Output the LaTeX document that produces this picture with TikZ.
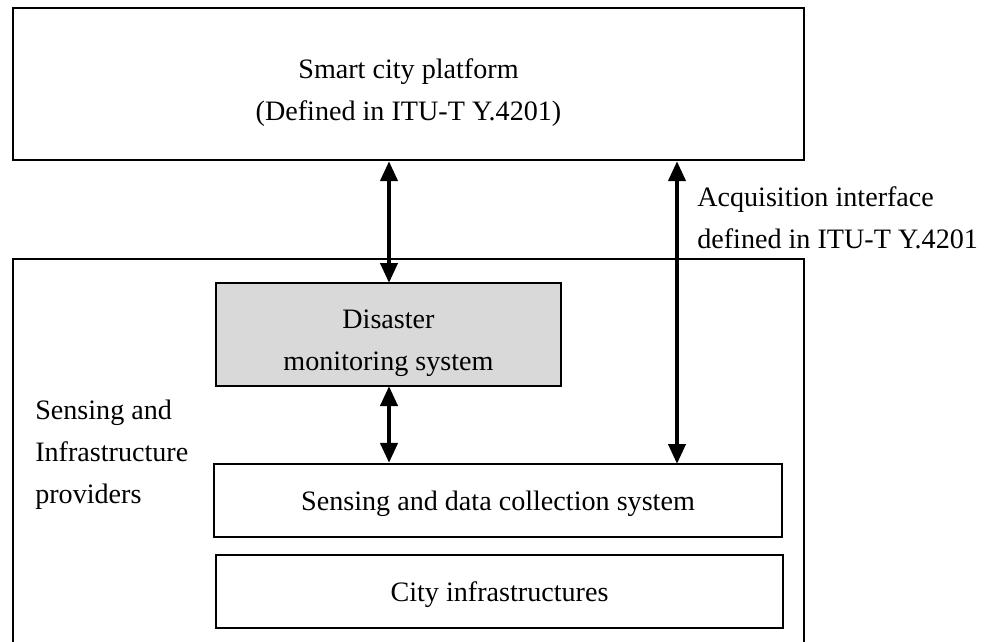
\documentclass[tikz,border=0pt]{standalone}
\usepackage{fontspec}
\setmainfont{Liberation Serif}
\usepackage{tikz}
\usetikzlibrary{arrows.meta,positioning}
\newcommand{\tstrut}[1]{\rule{0pt}{#1}}
\tikzset{
  blk/.style={draw, line width=1.5pt, align=center, inner sep=0pt,
    font=\fontsize{20}{30}\selectfont},
  grey/.style={blk, fill=gray!30},
  link/.style={{Triangle[length=5mm,width=4.2mm]}-{Triangle[length=5mm,width=4.2mm]}, line width=3.2pt},
  lbl/.style={align=left, inner sep=0pt, font=\fontsize{20}{30}\selectfont},
}

\begin{document}
\begin{tikzpicture}[x=0.025cm,y=-0.025cm]
  \useasboundingbox (0,0) rectangle (994,641);
  % platform on top
  \node[blk, minimum width=19.775cm, minimum height=3.8cm] (platform) at (408.5,84)
    {\tstrut{26pt}Smart city platform\\(Defined in ITU-T Y.4201)};
  % provider domain, runs off the bottom
  \draw[line width=1.5pt] (13,660) -- (13,259) -- (804,259) -- (804,660);
  \node[lbl, anchor=west] (prov) at (35,455) {Sensing and\\Infrastructure\\providers};
  % inner systems
  \node[grey, minimum width=8.625cm, minimum height=2.575cm] (dms) at (388.5,334.5)
    {\tstrut{26pt}Disaster\\monitoring system};
  \node[blk, minimum width=14.2cm, minimum height=1.825cm] (sense) at (498,500.5)
    {\tstrut{19pt}Sensing and data collection system};
  \node[blk, minimum width=14.175cm, minimum height=1.825cm] (city) at (499.5,591.5)
    {\tstrut{19pt}City infrastructures};
  \coordinate (dmsTop) at (389,283);
  \coordinate (dmsBot) at (389,386);
  \coordinate (acq) at (677,464);
  % interfaces
  \draw[link] (dmsTop) -- (dmsTop |- platform.south);
  \draw[link] (dmsBot) -- (dmsBot |- sense.north);
  \draw[link] (acq) -- (acq |- platform.south);
  \node[lbl, anchor=west] (acqlbl) at (697,218) {Acquisition interface\\defined in ITU-T Y.4201};
\end{tikzpicture}
\end{document}
